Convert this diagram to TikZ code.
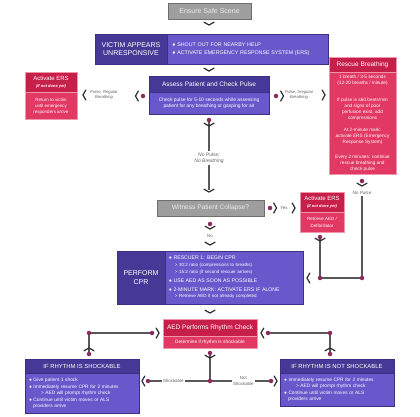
\documentclass[tikz,border=0pt]{standalone}
\usepackage{fontspec}
\setmainfont{Liberation Sans}
\usepackage{tikz}
\usetikzlibrary{positioning}
\definecolor{purpdark}{RGB}{70,56,150}
\definecolor{purplight}{RGB}{104,88,204}
\definecolor{purpedge}{RGB}{60,48,130}
\definecolor{reddark}{RGB}{198,32,74}
\definecolor{redlight}{RGB}{226,56,100}
\definecolor{rededge}{RGB}{240,150,170}
\definecolor{greyfill}{RGB}{158,158,158}
\definecolor{greyedge}{RGB}{110,110,110}
\definecolor{greytext}{RGB}{236,236,236}
\definecolor{dotc}{RGB}{140,42,94}
\definecolor{linec}{RGB}{88,88,88}
\definecolor{lblc}{RGB}{100,100,100}
\definecolor{chevc}{RGB}{45,45,45}
\tikzstyle{pband}=[fill=purpdark,draw=purpedge,text=white,inner sep=1pt,align=center]
\tikzstyle{pbody}=[fill=purplight,draw=purpedge,text=white,inner sep=1pt,align=center]
\tikzstyle{rband}=[fill=reddark,draw=rededge,text=white,inner sep=1pt,align=center]
\tikzstyle{rbody}=[fill=redlight,draw=rededge,text=white,inner sep=1pt,align=center]
\tikzstyle{gbox}=[fill=greyfill,draw=greyedge,line width=0.8pt,text=greytext,inner sep=1pt]
\tikzstyle{dot}=[circle,fill=dotc,inner sep=0pt,minimum size=4.5pt]
\tikzstyle{conn}=[draw=linec,line width=1.2pt]
\tikzstyle{lbl}=[text=lblc,font=\fontsize{4.2}{5.2}\selectfont\itshape,align=center,inner sep=1pt]
\tikzstyle{lblup}=[text=lblc,font=\fontsize{4.4}{5.2}\selectfont,align=center,inner sep=1pt]
\tikzset{chev/.pic={\draw[draw=chevc,line width=1.2pt,line cap=round,line join=round] (-2.8,-5) -- (0,0) -- (-2.8,5);}}
\begin{document}
\begin{tikzpicture}[x=1pt,y=-1pt]
\useasboundingbox[fill=white] (0,0) rectangle (420,416);
% boxes
\node[gbox,minimum width=83,minimum height=16,font=\fontsize{7}{8}\selectfont] (scene) at (209.5,11) {Ensure Safe Scene};
\node[pband,minimum width=72,minimum height=30,font=\fontsize{7}{8.6}\selectfont] (victimL) at (131,49) {VICTIM APPEARS\\UNRESPONSIVE};
\node[pbody,right=0pt of victimL,minimum height=30,text width=151,inner xsep=5pt,align=left,font=\fontsize{5.3}{7.5}\selectfont] (victimR) {● SHOUT OUT FOR NEARBY HELP\\● ACTIVATE EMERGENCY RESPONSE SYSTEM (ERS)};
\node[pband,minimum width=120,minimum height=16,font=\fontsize{6.5}{7.5}\selectfont] (assessT) at (209,84) {Assess Patient and Check Pulse};
\node[pbody,below=0pt of assessT,minimum width=120,minimum height=22,font=\fontsize{4.9}{6.2}\selectfont] (assessB) {Check pulse for 5-10 seconds while assessing\\patient for any breathing or gasping for air};
\node[rband,minimum width=52,minimum height=20,font=\fontsize{6}{7}\selectfont] (ersLT) at (51,82) {Activate ERS\\{\fontsize{4}{5}\selectfont\bfseries\itshape (If not done yet)}};
\node[rbody,below=0pt of ersLT,minimum width=52,minimum height=27,font=\fontsize{4.5}{6}\selectfont] (ersLB) {Return to victim\\until emergency\\responders arrive};
\node[rband,minimum width=67,minimum height=15,font=\fontsize{6.5}{7.5}\selectfont] (rescueT) at (362.5,64.5) {Rescue Breathing};
\node[rbody,below=0pt of rescueT,minimum width=67,minimum height=102,font=\fontsize{4.7}{6}\selectfont] (rescueB) {1 breath / 3-5 seconds\\(12-20 breaths / minute)\\[11pt]
If pulse is ≤60 beats/min\\and signs of poor\\perfusion exist, add\\compressions\\[6pt]
At 2-minute mark:\\activate ERS (Emergency\\Response System)\\[9pt]
Every 2 minutes: continue\\rescue breathing and\\check pulse};
\node[gbox,minimum width=107,minimum height=16,font=\fontsize{6.6}{8}\selectfont] (witness) at (210.5,208) {Witness Patient Collapse?};
\node[rband,minimum width=44,minimum height=20,font=\fontsize{6}{7}\selectfont] (ersRT) at (322,202) {Activate ERS\\{\fontsize{4}{5}\selectfont\bfseries\itshape (If not done yet)}};
\node[rbody,below=0pt of ersRT,minimum width=44,minimum height=20,font=\fontsize{4.5}{6.5}\selectfont] (ersRB) {Retrieve AED /\\Defibrillator};
\node[pband,minimum width=48,minimum height=53,font=\fontsize{7}{9}\selectfont] (cprL) at (141,277.5) {PERFORM\\CPR};
\node[pbody,right=0pt of cprL,minimum height=53,text width=131,inner xsep=3.5pt,align=left,font=\fontsize{4.5}{6.6}\selectfont] (cprR) {{\fontsize{5.2}{6.6}\selectfont● RESCUER 1: BEGIN CPR}\\
\hspace*{6pt}> 30:2 ratio (compressions to breaths)\\
\hspace*{6pt}> 15:2 ratio (if second rescuer arrives)\\[2.5pt]
{\fontsize{5.2}{6.6}\selectfont● USE AED AS SOON AS POSSIBLE}\\[2.5pt]
{\fontsize{5.2}{6.6}\selectfont● 2-MINUTE MARK: ACTIVATE ERS IF ALONE}\\
\hspace*{6pt}> Retrieve AED if not already completed};
\node[rband,minimum width=94,minimum height=17,font=\fontsize{6.5}{7.5}\selectfont] (aedT) at (210,327.5) {AED Performs Rhythm Check};
\node[rbody,below=0pt of aedT,minimum width=94,minimum height=12,font=\fontsize{4.8}{6}\selectfont] (aedB) {Determine if rhythm is shockable};
\node[pband,minimum width=114,minimum height=14,font=\fontsize{5.9}{7}\selectfont] (shockT) at (82,366) {IF RHYTHM IS SHOCKABLE};
\node[pbody,below=0pt of shockT,minimum height=40,text width=106,inner xsep=4pt,align=left,font=\fontsize{4.8}{6.5}\selectfont] (shockB) {● Give patient 1 shock\\● Immediately resume CPR for 2 minutes\\
\hspace*{12pt}> AED will prompt rhythm check\\● Continue until victim moves or ALS\\\hspace*{4pt}providers arrive};
\node[pband,minimum width=114,minimum height=14,font=\fontsize{5.9}{7}\selectfont] (notT) at (337,366) {IF RHYTHM IS NOT SHOCKABLE};
\node[pbody,below=0pt of notT,minimum height=33,text width=106,inner xsep=4pt,align=left,font=\fontsize{4.8}{6.5}\selectfont] (notB) {● Immediately resume CPR for 2 minutes\\
\hspace*{12pt}> AED will prompt rhythm check\\● Continue until victim moves or ALS\\\hspace*{4pt}providers arrive};
% dots
\node[dot] (dAL) at (143,96) {};
\node[dot] (dAR) at (276,96) {};
\node[dot] (dAD) at (209,120) {};
\node[dot] (dRD) at (362,181) {};
\node[dot] (dRC) at (362,278) {};
\node[dot] (dEC) at (320,278) {};
\node[dot] (dED) at (320,237) {};
\node[dot] (dWR) at (270,208) {};
\node[dot] (dWD) at (210,224) {};
\node[dot] (dQD) at (210,353) {};
\node[dot] (dQJ) at (210,381) {};
\node[dot] (dSL) at (148,381) {};
\node[dot] (dSR) at (271,381) {};
\node[dot] (dSU) at (89,354) {};
\node[dot] (dSC) at (89,333) {};
\node[dot] (dSA) at (152,333) {};
\node[dot] (dNU) at (330,354) {};
\node[dot] (dNC) at (330,333) {};
\node[dot] (dNA) at (268,333) {};
% labels
\node[lbl] (lReg) at (104,95) {Pulse, Regular\\Breathing};
\node[lbl] (lIrr) at (299,95) {Pulse; Irregular\\Breathing};
\node[lbl,font=\fontsize{5}{6.2}\selectfont\itshape] (lNoP) at (209,158) {No Pulse;\\No Breathing};
\node[lbl,font=\fontsize{4.6}{5}\selectfont\itshape] (lNP2) at (362,193) {No Pulse};
\node[lblup] (lYes) at (284,208) {Yes};
\node[lblup] (lNo) at (210,236) {No};
\coordinate (cWit) at (209,190);
% connectors
\draw[conn] (dAD) -- (lNoP);
\draw[conn] (lNoP) -- (cWit);
\draw[conn] (lNP2) -- (dRC) -- (dEC);
\draw[conn] (dED) -- (dEC);
\draw[conn] (dQD) -- (dQJ);
\draw[conn] (dSL) -- node[lblup,fill=white,pos=0.4] {Shockable} (dQJ);
\draw[conn] (dQJ) -- node[lblup,fill=white,pos=0.55] {Not\\Shockable} (dSR);
\draw[conn] (dSU) -- (dSC) -- (dSA);
\draw[conn] (dNU) -- (dNC) -- (dNA);
% chevrons
\foreach \p in {(209,25),(209,71),(209,126),(209,192),(362,186),(320,241),(210,229),(210,245),(210,313),(210,358)}
  \pic[rotate=-90] at \p {chev};
\foreach \p in {(135.5,96),(83,95),(307,278),(142,381),(261,333)}
  \pic[rotate=180] at \p {chev};
\foreach \p in {(283.5,96),(325,95),(276.5,208),(295,208),(277,381),(159,333)}
  \pic at \p {chev};
\foreach \p in {(89,348),(330,348)}
  \pic[rotate=90] at \p {chev};
\end{tikzpicture}
\end{document}
